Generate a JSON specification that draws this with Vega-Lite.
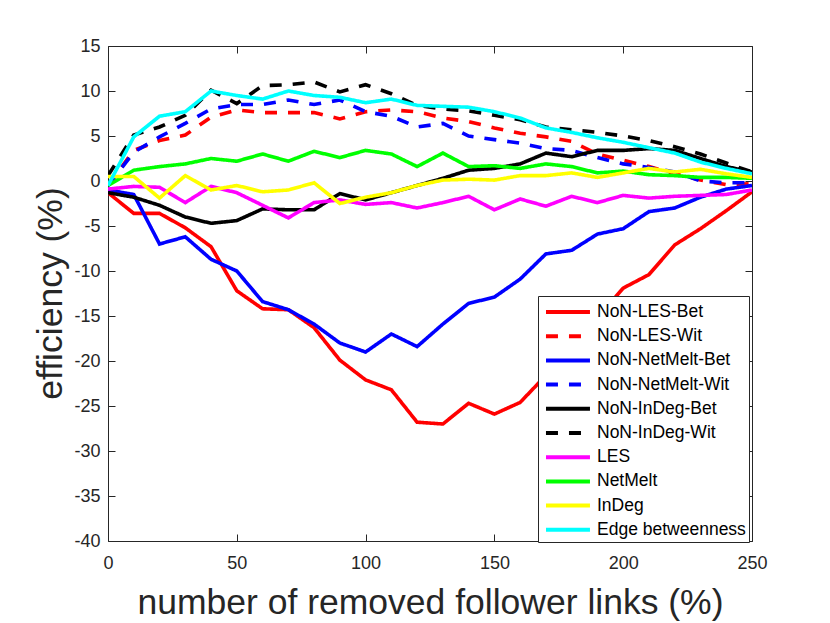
{
  "$schema": "https://vega.github.io/schema/vega-lite/v6.json",
  "width": 644,
  "height": 495,
  "autosize": "none",
  "padding": {"left": 108, "top": 46, "right": 78, "bottom": 82},
  "background": "white",
  "config": {
    "view": {"stroke": "#262626", "strokeWidth": 1},
    "axis": {
      "grid": false,
      "domain": false,
      "offset": -7,
      "tickColor": "#262626",
      "tickSize": 7,
      "tickWidth": 1,
      "labelFlush": false,
      "labelOverlap": false,
      "labelFont": "Liberation Sans",
      "labelFontSize": 18,
      "labelColor": "#262626",
      "labelExpr": "toString(datum.value)",
      "titleFont": "Liberation Sans",
      "titleFontSize": 35.5,
      "titleFontWeight": "normal",
      "titleColor": "#262626"
    }
  },
  "data": {
    "values": [
      {"x": 0, "NoN-LES-Bet": -1.3, "NoN-LES-Wit": -0.5, "NoN-NetMelt-Bet": -1.0, "NoN-NetMelt-Wit": -0.5, "NoN-InDeg-Bet": -1.3, "NoN-InDeg-Wit": 0.6, "LES": -0.9, "NetMelt": -0.5, "InDeg": 0.5, "Edge betweenness": -0.5},
      {"x": 10, "NoN-LES-Bet": -3.6, "NoN-LES-Wit": 3.4, "NoN-NetMelt-Bet": -1.5, "NoN-NetMelt-Wit": 3.2, "NoN-InDeg-Bet": -1.8, "NoN-InDeg-Wit": 5.1, "LES": -0.6, "NetMelt": 1.2, "InDeg": 0.5, "Edge betweenness": 4.9},
      {"x": 20, "NoN-LES-Bet": -3.6, "NoN-LES-Wit": 4.5, "NoN-NetMelt-Bet": -7.0, "NoN-NetMelt-Wit": 4.9, "NoN-InDeg-Bet": -2.7, "NoN-InDeg-Wit": 6.0, "LES": -0.7, "NetMelt": 1.6, "InDeg": -1.9, "Edge betweenness": 7.2},
      {"x": 30, "NoN-LES-Bet": -5.2, "NoN-LES-Wit": 5.1, "NoN-NetMelt-Bet": -6.2, "NoN-NetMelt-Wit": 6.4, "NoN-InDeg-Bet": -4.0, "NoN-InDeg-Wit": 7.3, "LES": -2.4, "NetMelt": 1.9, "InDeg": 0.6, "Edge betweenness": 7.7},
      {"x": 40, "NoN-LES-Bet": -7.3, "NoN-LES-Wit": 7.1, "NoN-NetMelt-Bet": -8.7, "NoN-NetMelt-Wit": 8.0, "NoN-InDeg-Bet": -4.7, "NoN-InDeg-Wit": 10.1, "LES": -0.6, "NetMelt": 2.5, "InDeg": -1.0, "Edge betweenness": 10.0},
      {"x": 50, "NoN-LES-Bet": -12.2, "NoN-LES-Wit": 7.9, "NoN-NetMelt-Bet": -10.0, "NoN-NetMelt-Wit": 8.5, "NoN-InDeg-Bet": -4.4, "NoN-InDeg-Wit": 8.6, "LES": -1.3, "NetMelt": 2.2, "InDeg": -0.5, "Edge betweenness": 9.5},
      {"x": 60, "NoN-LES-Bet": -14.2, "NoN-LES-Wit": 7.6, "NoN-NetMelt-Bet": -13.4, "NoN-NetMelt-Wit": 8.5, "NoN-InDeg-Bet": -3.1, "NoN-InDeg-Wit": 10.6, "LES": -2.7, "NetMelt": 3.0, "InDeg": -1.2, "Edge betweenness": 9.1},
      {"x": 70, "NoN-LES-Bet": -14.3, "NoN-LES-Wit": 7.6, "NoN-NetMelt-Bet": -14.3, "NoN-NetMelt-Wit": 9.0, "NoN-InDeg-Bet": -3.2, "NoN-InDeg-Wit": 10.7, "LES": -4.1, "NetMelt": 2.2, "InDeg": -1.0, "Edge betweenness": 10.0},
      {"x": 80, "NoN-LES-Bet": -16.3, "NoN-LES-Wit": 7.6, "NoN-NetMelt-Bet": -15.9, "NoN-NetMelt-Wit": 8.5, "NoN-InDeg-Bet": -3.2, "NoN-InDeg-Wit": 11.0, "LES": -2.4, "NetMelt": 3.3, "InDeg": -0.2, "Edge betweenness": 9.5},
      {"x": 90, "NoN-LES-Bet": -19.9, "NoN-LES-Wit": 6.9, "NoN-NetMelt-Bet": -18.0, "NoN-NetMelt-Wit": 9.0, "NoN-InDeg-Bet": -1.4, "NoN-InDeg-Wit": 9.9, "LES": -2.1, "NetMelt": 2.6, "InDeg": -2.5, "Edge betweenness": 9.3},
      {"x": 100, "NoN-LES-Bet": -22.1, "NoN-LES-Wit": 7.7, "NoN-NetMelt-Bet": -19.0, "NoN-NetMelt-Wit": 7.7, "NoN-InDeg-Bet": -2.1, "NoN-InDeg-Wit": 10.7, "LES": -2.6, "NetMelt": 3.4, "InDeg": -1.8, "Edge betweenness": 8.7},
      {"x": 110, "NoN-LES-Bet": -23.2, "NoN-LES-Wit": 7.9, "NoN-NetMelt-Bet": -17.0, "NoN-NetMelt-Wit": 7.2, "NoN-InDeg-Bet": -1.3, "NoN-InDeg-Wit": 9.7, "LES": -2.4, "NetMelt": 3.0, "InDeg": -1.3, "Edge betweenness": 9.1},
      {"x": 120, "NoN-LES-Bet": -26.8, "NoN-LES-Wit": 7.7, "NoN-NetMelt-Bet": -18.4, "NoN-NetMelt-Wit": 6.0, "NoN-InDeg-Bet": -0.5, "NoN-InDeg-Wit": 8.4, "LES": -3.0, "NetMelt": 1.6, "InDeg": -0.5, "Edge betweenness": 8.4},
      {"x": 130, "NoN-LES-Bet": -27.0, "NoN-LES-Wit": 7.0, "NoN-NetMelt-Bet": -15.9, "NoN-NetMelt-Wit": 6.4, "NoN-InDeg-Bet": 0.3, "NoN-InDeg-Wit": 8.0, "LES": -2.4, "NetMelt": 3.1, "InDeg": 0.1, "Edge betweenness": 8.3},
      {"x": 140, "NoN-LES-Bet": -24.7, "NoN-LES-Wit": 6.6, "NoN-NetMelt-Bet": -13.6, "NoN-NetMelt-Wit": 5.0, "NoN-InDeg-Bet": 1.2, "NoN-InDeg-Wit": 7.8, "LES": -1.7, "NetMelt": 1.6, "InDeg": 0.2, "Edge betweenness": 8.2},
      {"x": 150, "NoN-LES-Bet": -25.9, "NoN-LES-Wit": 5.9, "NoN-NetMelt-Bet": -12.9, "NoN-NetMelt-Wit": 4.6, "NoN-InDeg-Bet": 1.4, "NoN-InDeg-Wit": 7.3, "LES": -3.2, "NetMelt": 1.7, "InDeg": 0.1, "Edge betweenness": 7.7},
      {"x": 160, "NoN-LES-Bet": -24.6, "NoN-LES-Wit": 5.3, "NoN-NetMelt-Bet": -10.9, "NoN-NetMelt-Wit": 4.2, "NoN-InDeg-Bet": 1.9, "NoN-InDeg-Wit": 6.8, "LES": -2.0, "NetMelt": 1.4, "InDeg": 0.6, "Edge betweenness": 7.0},
      {"x": 170, "NoN-LES-Bet": -21.6, "NoN-LES-Wit": 4.9, "NoN-NetMelt-Bet": -8.1, "NoN-NetMelt-Wit": 3.6, "NoN-InDeg-Bet": 3.1, "NoN-InDeg-Wit": 6.0, "LES": -2.8, "NetMelt": 1.9, "InDeg": 0.6, "Edge betweenness": 5.9},
      {"x": 180, "NoN-LES-Bet": -18.5, "NoN-LES-Wit": 4.4, "NoN-NetMelt-Bet": -7.7, "NoN-NetMelt-Wit": 3.4, "NoN-InDeg-Bet": 2.7, "NoN-InDeg-Wit": 5.7, "LES": -1.7, "NetMelt": 1.6, "InDeg": 0.9, "Edge betweenness": 5.4},
      {"x": 190, "NoN-LES-Bet": -15.2, "NoN-LES-Wit": 3.0, "NoN-NetMelt-Bet": -5.9, "NoN-NetMelt-Wit": 2.6, "NoN-InDeg-Bet": 3.4, "NoN-InDeg-Wit": 5.4, "LES": -2.4, "NetMelt": 0.9, "InDeg": 0.4, "Edge betweenness": 4.8},
      {"x": 200, "NoN-LES-Bet": -11.9, "NoN-LES-Wit": 2.3, "NoN-NetMelt-Bet": -5.3, "NoN-NetMelt-Wit": 1.9, "NoN-InDeg-Bet": 3.4, "NoN-InDeg-Wit": 5.0, "LES": -1.6, "NetMelt": 1.1, "InDeg": 0.9, "Edge betweenness": 4.3},
      {"x": 210, "NoN-LES-Bet": -10.4, "NoN-LES-Wit": 1.6, "NoN-NetMelt-Bet": -3.4, "NoN-NetMelt-Wit": 1.5, "NoN-InDeg-Bet": 3.6, "NoN-InDeg-Wit": 4.5, "LES": -1.9, "NetMelt": 0.7, "InDeg": 1.4, "Edge betweenness": 3.7},
      {"x": 220, "NoN-LES-Bet": -7.1, "NoN-LES-Wit": 0.8, "NoN-NetMelt-Bet": -3.0, "NoN-NetMelt-Wit": 1.0, "NoN-InDeg-Bet": 3.4, "NoN-InDeg-Wit": 3.8, "LES": -1.7, "NetMelt": 0.6, "InDeg": 1.0, "Edge betweenness": 3.1},
      {"x": 230, "NoN-LES-Bet": -5.3, "NoN-LES-Wit": 0.1, "NoN-NetMelt-Bet": -1.8, "NoN-NetMelt-Wit": 0.0, "NoN-InDeg-Bet": 2.5, "NoN-InDeg-Wit": 3.0, "LES": -1.6, "NetMelt": 0.4, "InDeg": 1.3, "Edge betweenness": 2.1},
      {"x": 240, "NoN-LES-Bet": -3.3, "NoN-LES-Wit": -0.4, "NoN-NetMelt-Bet": -0.9, "NoN-NetMelt-Wit": -0.2, "NoN-InDeg-Bet": 1.6, "NoN-InDeg-Wit": 2.0, "LES": -1.5, "NetMelt": 0.4, "InDeg": 0.8, "Edge betweenness": 1.4},
      {"x": 250, "NoN-LES-Bet": -1.2, "NoN-LES-Wit": -0.3, "NoN-NetMelt-Bet": -0.5, "NoN-NetMelt-Wit": -0.2, "NoN-InDeg-Bet": 1.0, "NoN-InDeg-Wit": 1.0, "LES": -1.0, "NetMelt": 0.3, "InDeg": 0.4, "Edge betweenness": 0.8}
    ]
  },
  "transform": [
    {
      "fold": ["NoN-LES-Bet", "NoN-LES-Wit", "NoN-NetMelt-Bet", "NoN-NetMelt-Wit", "NoN-InDeg-Bet", "NoN-InDeg-Wit", "LES", "NetMelt", "InDeg", "Edge betweenness"],
      "as": ["series", "value"]
    }
  ],
  "layer": [
    {
      "mark": {"type": "line", "strokeWidth": 3.6, "clip": true},
      "encoding": {
        "x": {
          "field": "x",
          "type": "quantitative",
          "scale": {"domain": [0, 250], "nice": false},
          "axis": {
            "orient": "bottom",
            "values": [0, 50, 100, 150, 200, 250],
            "labelPadding": 13,
            "title": "number of removed follower links (%)",
            "titleY": 79,
            "titleBaseline": "alphabetic"
          }
        },
        "y": {
          "field": "value",
          "type": "quantitative",
          "scale": {"domain": [-40, 15], "nice": false, "zero": false},
          "axis": {
            "orient": "left",
            "values": [-40, -35, -30, -25, -20, -15, -10, -5, 0, 5, 10, 15],
            "labelPadding": 8,
            "title": "efficiency (%)",
            "titleX": -54,
            "titleY": 247,
            "titleAngle": -90,
            "titleBaseline": "alphabetic"
          }
        },
        "color": {
          "field": "series",
          "type": "nominal",
          "scale": {
            "domain": ["NoN-LES-Bet", "NoN-LES-Wit", "NoN-NetMelt-Bet", "NoN-NetMelt-Wit", "NoN-InDeg-Bet", "NoN-InDeg-Wit", "LES", "NetMelt", "InDeg", "Edge betweenness"],
            "range": ["#ff0000", "#ff0000", "#0000ff", "#0000ff", "#000000", "#000000", "#ff00ff", "#00ff00", "#ffff00", "#00ffff"]
          },
          "legend": {
            "title": null,
            "orient": "none",
            "legendX": 430,
            "legendY": 250,
            "symbolType": "M-0.73,0H3.27",
            "symbolSize": 484,
            "symbolStrokeWidth": 4,
            "labelFont": "Liberation Sans",
            "labelFontSize": 17.5,
            "labelColor": "#000000",
            "labelOffset": 30,
            "labelLimit": 300,
            "rowPadding": 2.2,
            "padding": 3,
            "strokeColor": "#262626",
            "fillColor": "white"
          }
        },
        "strokeDash": {
          "field": "series",
          "type": "nominal",
          "scale": {
            "domain": ["NoN-LES-Bet", "NoN-LES-Wit", "NoN-NetMelt-Bet", "NoN-NetMelt-Wit", "NoN-InDeg-Bet", "NoN-InDeg-Wit", "LES", "NetMelt", "InDeg", "Edge betweenness"],
            "range": [[1, 0], [12, 11], [1, 0], [12, 11], [1, 0], [12, 11], [1, 0], [1, 0], [1, 0], [1, 0]]
          },
          "legend": {
            "title": null,
            "orient": "none",
            "legendX": 430,
            "legendY": 250,
            "symbolType": "M-0.73,0H3.27",
            "symbolSize": 484,
            "symbolStrokeWidth": 4,
            "labelFont": "Liberation Sans",
            "labelFontSize": 17.5,
            "labelColor": "#000000",
            "labelOffset": 30,
            "labelLimit": 300,
            "rowPadding": 2.2,
            "padding": 3,
            "strokeColor": "#262626",
            "fillColor": "white"
          }
        }
      }
    },
    {
      "mark": {"type": "line", "strokeOpacity": 0},
      "encoding": {
        "x": {
          "field": "x",
          "type": "quantitative",
          "axis": {"orient": "top", "values": [0, 50, 100, 150, 200, 250], "labels": false, "title": null}
        },
        "y": {
          "field": "value",
          "type": "quantitative",
          "axis": {"orient": "right", "values": [-40, -35, -30, -25, -20, -15, -10, -5, 0, 5, 10, 15], "labels": false, "title": null}
        },
        "detail": {"field": "series"}
      }
    }
  ],
  "resolve": {"axis": {"x": "independent", "y": "independent"}}
}
